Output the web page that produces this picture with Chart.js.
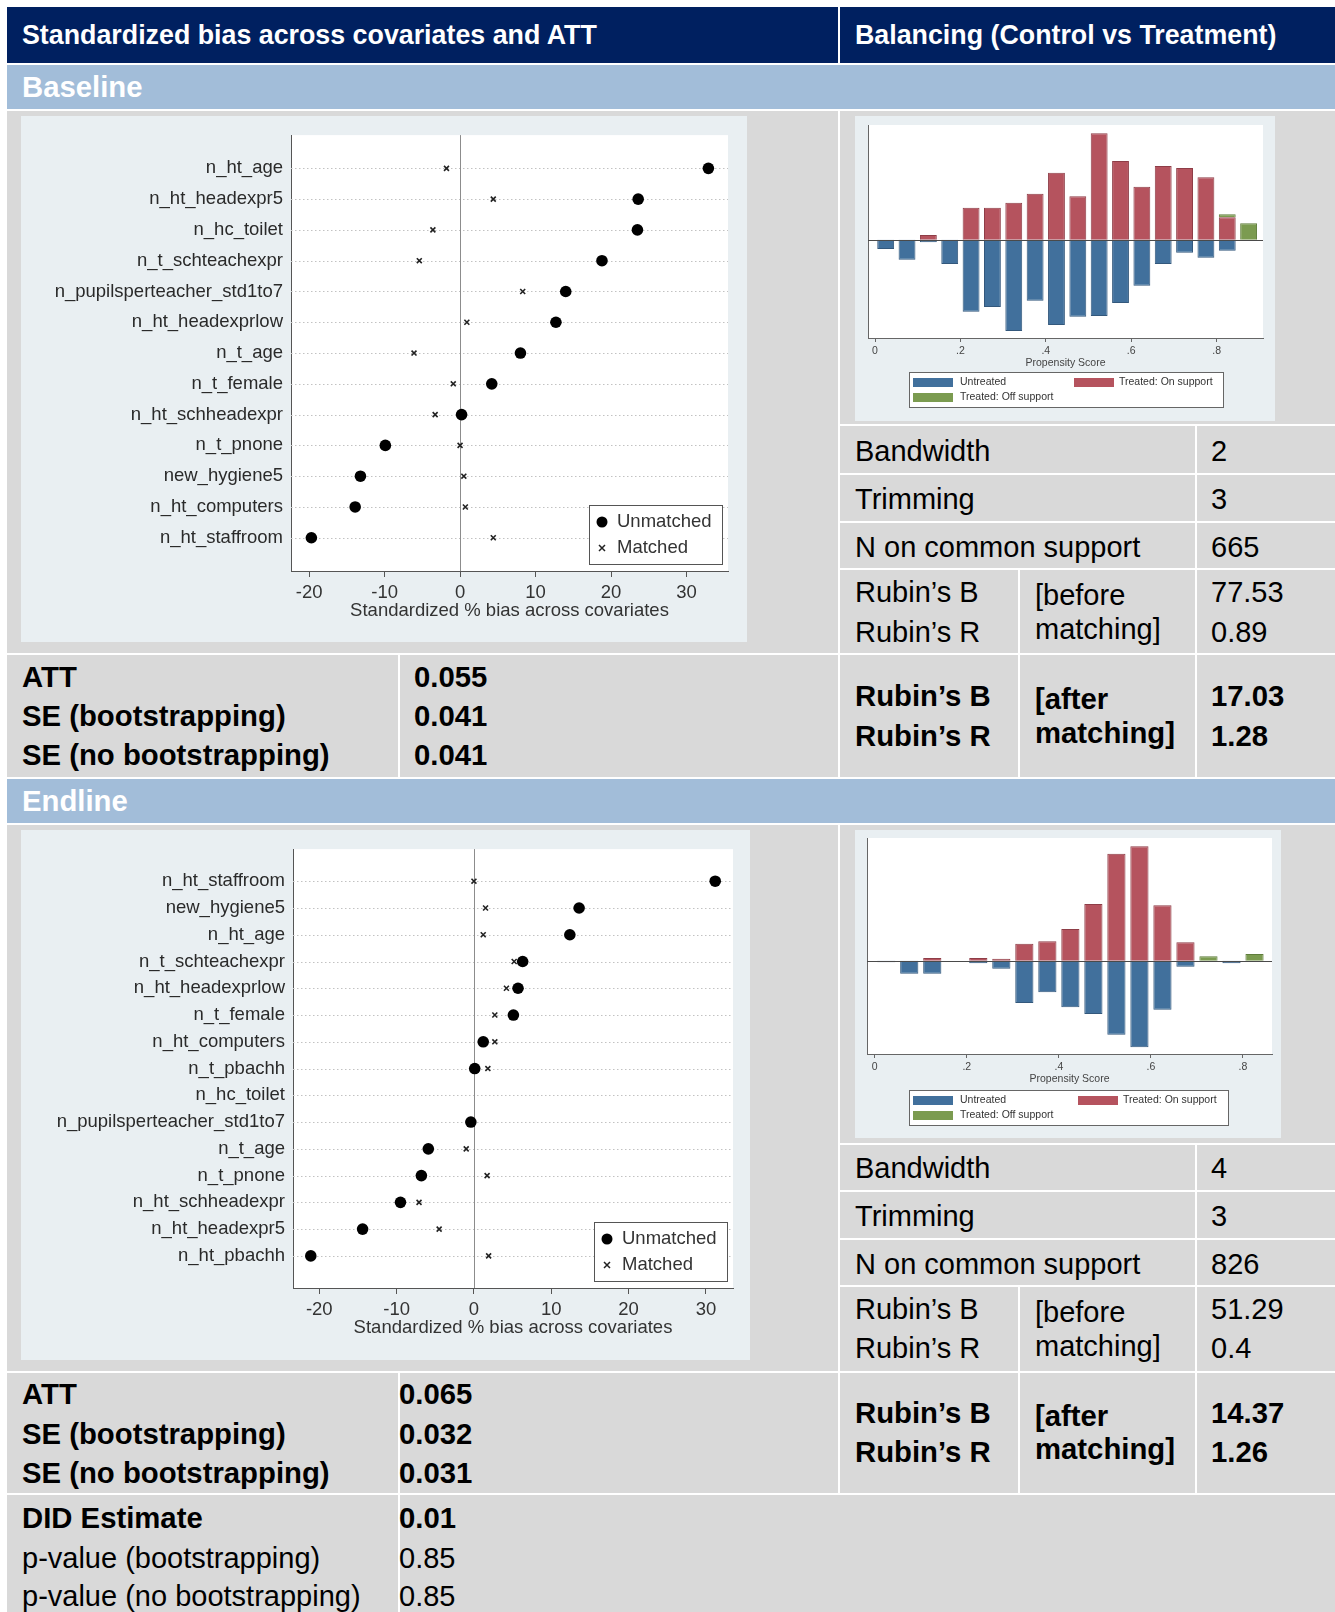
<!DOCTYPE html>
<html>
<head>
<meta charset="utf-8">
<script src="https://cdn.jsdelivr.net/npm/chart.js@4.4.1/dist/chart.umd.min.js"></script>
<style>
html,body{margin:0;padding:0;background:#fff;overflow:hidden;}
#page{position:relative;width:1335px;height:1612px;font-family:"Liberation Sans",Arial,Helvetica,sans-serif;}
.r{position:absolute;}
.g{background:#d9d9d9;}
.navy{background:#002060;}
.band{background:#a2bdd9;}
.t{position:absolute;white-space:nowrap;line-height:40px;height:40px;font-size:29px;color:#000;}
.b{font-weight:bold;font-size:29.3px;}
.h{font-weight:bold;font-size:26.8px;color:#fff;}
.w{color:#fff;}
canvas{position:absolute;display:block;background:#e9eff2;}
</style>
</head>
<body>
<div id="page">
  <!-- header -->
  <div class="r navy" style="left:7px;top:7px;width:831px;height:56px;"></div>
  <div class="r navy" style="left:840px;top:7px;width:495px;height:56px;"></div>
  <div class="t h" style="left:22px;top:15px;">Standardized bias across covariates and ATT</div>
  <div class="t h" style="left:855px;top:15px;">Balancing (Control vs Treatment)</div>

  <!-- Baseline -->
  <div class="r band" style="left:7px;top:65px;width:1328px;height:44px;"></div>
  <div class="t b w" style="left:22px;top:67px;">Baseline</div>

  <div class="r g" style="left:7px;top:111px;width:831px;height:542px;"></div>
  <div class="r g" style="left:840px;top:111px;width:495px;height:313px;"></div>
  <div class="r g" style="left:840px;top:426px;width:355px;height:47px;"></div>
  <div class="r g" style="left:1197px;top:426px;width:138px;height:47px;"></div>
  <div class="r g" style="left:840px;top:475px;width:355px;height:46px;"></div>
  <div class="r g" style="left:1197px;top:475px;width:138px;height:46px;"></div>
  <div class="r g" style="left:840px;top:523px;width:355px;height:45px;"></div>
  <div class="r g" style="left:1197px;top:523px;width:138px;height:45px;"></div>
  <div class="r g" style="left:840px;top:570px;width:178px;height:83px;"></div>
  <div class="r g" style="left:1020px;top:570px;width:175px;height:83px;"></div>
  <div class="r g" style="left:1197px;top:570px;width:138px;height:83px;"></div>

  <div class="r g" style="left:7px;top:655px;width:391px;height:122px;"></div>
  <div class="r g" style="left:400px;top:655px;width:438px;height:122px;"></div>
  <div class="r g" style="left:840px;top:655px;width:178px;height:122px;"></div>
  <div class="r g" style="left:1020px;top:655px;width:175px;height:122px;"></div>
  <div class="r g" style="left:1197px;top:655px;width:138px;height:122px;"></div>

  <canvas id="dotBase" width="726" height="526" style="left:21px;top:116px;width:726px;height:526px;"></canvas>
  <canvas id="histBase" width="420" height="305" style="left:855px;top:116px;width:420px;height:305px;"></canvas>

  <div class="t" style="left:855px;top:431px;">Bandwidth</div>
  <div class="t" style="left:1211px;top:431px;">2</div>
  <div class="t" style="left:855px;top:479px;">Trimming</div>
  <div class="t" style="left:1211px;top:479px;">3</div>
  <div class="t" style="left:855px;top:527px;">N on common support</div>
  <div class="t" style="left:1211px;top:527px;">665</div>
  <div class="t" style="left:855px;top:572px;">Rubin’s B</div>
  <div class="t" style="left:855px;top:612px;">Rubin’s R</div>
  <div class="t" style="left:1035px;top:575px;">[before</div>
  <div class="t" style="left:1035px;top:609px;">matching]</div>
  <div class="t" style="left:1211px;top:572px;">77.53</div>
  <div class="t" style="left:1211px;top:612px;">0.89</div>

  <div class="t b" style="left:22px;top:657px;">ATT</div>
  <div class="t b" style="left:22px;top:696px;">SE (bootstrapping)</div>
  <div class="t b" style="left:22px;top:735px;">SE (no bootstrapping)</div>
  <div class="t b" style="left:414px;top:657px;">0.055</div>
  <div class="t b" style="left:414px;top:696px;">0.041</div>
  <div class="t b" style="left:414px;top:735px;">0.041</div>
  <div class="t b" style="left:855px;top:676px;">Rubin’s B</div>
  <div class="t b" style="left:855px;top:716px;">Rubin’s R</div>
  <div class="t b" style="left:1035px;top:679px;">[after</div>
  <div class="t b" style="left:1035px;top:713px;">matching]</div>
  <div class="t b" style="left:1211px;top:676px;">17.03</div>
  <div class="t b" style="left:1211px;top:716px;">1.28</div>

  <!-- Endline -->
  <div class="r band" style="left:7px;top:779px;width:1328px;height:44px;"></div>
  <div class="t b w" style="left:22px;top:781px;">Endline</div>

  <div class="r g" style="left:7px;top:825px;width:831px;height:546px;"></div>
  <div class="r g" style="left:840px;top:825px;width:495px;height:318px;"></div>
  <div class="r g" style="left:840px;top:1145px;width:355px;height:45px;"></div>
  <div class="r g" style="left:1197px;top:1145px;width:138px;height:45px;"></div>
  <div class="r g" style="left:840px;top:1192px;width:355px;height:46px;"></div>
  <div class="r g" style="left:1197px;top:1192px;width:138px;height:46px;"></div>
  <div class="r g" style="left:840px;top:1240px;width:355px;height:45px;"></div>
  <div class="r g" style="left:1197px;top:1240px;width:138px;height:45px;"></div>
  <div class="r g" style="left:840px;top:1287px;width:178px;height:84px;"></div>
  <div class="r g" style="left:1020px;top:1287px;width:175px;height:84px;"></div>
  <div class="r g" style="left:1197px;top:1287px;width:138px;height:84px;"></div>

  <div class="r g" style="left:7px;top:1373px;width:391px;height:120px;"></div>
  <div class="r g" style="left:400px;top:1373px;width:438px;height:120px;"></div>
  <div class="r g" style="left:840px;top:1373px;width:178px;height:120px;"></div>
  <div class="r g" style="left:1020px;top:1373px;width:175px;height:120px;"></div>
  <div class="r g" style="left:1197px;top:1373px;width:138px;height:120px;"></div>

  <div class="r g" style="left:7px;top:1495px;width:391px;height:117px;"></div>
  <div class="r g" style="left:400px;top:1495px;width:935px;height:117px;"></div>

  <canvas id="dotEnd" width="729" height="530" style="left:21px;top:830px;width:729px;height:530px;"></canvas>
  <canvas id="histEnd" width="426" height="308" style="left:855px;top:830px;width:426px;height:308px;"></canvas>

  <div class="t" style="left:855px;top:1148px;">Bandwidth</div>
  <div class="t" style="left:1211px;top:1148px;">4</div>
  <div class="t" style="left:855px;top:1196px;">Trimming</div>
  <div class="t" style="left:1211px;top:1196px;">3</div>
  <div class="t" style="left:855px;top:1244px;">N on common support</div>
  <div class="t" style="left:1211px;top:1244px;">826</div>
  <div class="t" style="left:855px;top:1289px;">Rubin’s B</div>
  <div class="t" style="left:855px;top:1328px;">Rubin’s R</div>
  <div class="t" style="left:1035px;top:1292px;">[before</div>
  <div class="t" style="left:1035px;top:1326px;">matching]</div>
  <div class="t" style="left:1211px;top:1289px;">51.29</div>
  <div class="t" style="left:1211px;top:1328px;">0.4</div>

  <div class="t b" style="left:22px;top:1374px;">ATT</div>
  <div class="t b" style="left:22px;top:1414px;">SE (bootstrapping)</div>
  <div class="t b" style="left:22px;top:1453px;">SE (no bootstrapping)</div>
  <div class="t b" style="left:399px;top:1374px;">0.065</div>
  <div class="t b" style="left:399px;top:1414px;">0.032</div>
  <div class="t b" style="left:399px;top:1453px;">0.031</div>
  <div class="t b" style="left:855px;top:1393px;">Rubin’s B</div>
  <div class="t b" style="left:855px;top:1432px;">Rubin’s R</div>
  <div class="t b" style="left:1035px;top:1396px;">[after</div>
  <div class="t b" style="left:1035px;top:1429px;">matching]</div>
  <div class="t b" style="left:1211px;top:1393px;">14.37</div>
  <div class="t b" style="left:1211px;top:1432px;">1.26</div>

  <div class="t b" style="left:22px;top:1498px;">DID Estimate</div>
  <div class="t b" style="left:399px;top:1498px;">0.01</div>
  <div class="t" style="left:22px;top:1538px;">p-value (bootstrapping)</div>
  <div class="t" style="left:399px;top:1538px;">0.85</div>
  <div class="t" style="left:22px;top:1576px;">p-value (no bootstrapping)</div>
  <div class="t" style="left:399px;top:1576px;">0.85</div>
</div>

<script>
// ---------- DATA ----------
const baseCats = ['n_ht_age','n_ht_headexpr5','n_hc_toilet','n_t_schteachexpr','n_pupilsperteacher_std1to7','n_ht_headexprlow','n_t_age','n_t_female','n_ht_schheadexpr','n_t_pnone','new_hygiene5','n_ht_computers','n_ht_staffroom'];
const baseUnmatched = [32.9, 23.6, 23.5, 18.8, 14.0, 12.7, 8.0, 4.2, 0.2, -9.9, -13.2, -13.9, -19.7];
const baseMatched   = [-1.8, 4.4, -3.6, -5.4, 8.3, 0.9, -6.1, -0.9, -3.3, 0.0, 0.5, 0.7, 4.4];

const endCats = ['n_ht_staffroom','new_hygiene5','n_ht_age','n_t_schteachexpr','n_ht_headexprlow','n_t_female','n_ht_computers','n_t_pbachh','n_hc_toilet','n_pupilsperteacher_std1to7','n_t_age','n_t_pnone','n_ht_schheadexpr','n_ht_headexpr5','n_ht_pbachh'];
const endUnmatched = [31.2, 13.6, 12.4, 6.3, 5.7, 5.1, 1.2, 0.1, null, -0.4, -5.9, -6.8, -9.5, -14.4, -21.1];
const endMatched   = [0.0, 1.5, 1.2, 5.2, 4.2, 2.7, 2.7, 1.8, null, null, -1.0, 1.7, -7.1, -4.5, 1.9];

const biasTicks = [-20, -10, 0, 10, 20, 30];
const seriesNames = ['Unmatched', 'Matched'];

const psTicks = [0, 0.2, 0.4, 0.6, 0.8];
const psTickLabels = ['0', '.2', '.4', '.6', '.8'];
const histNames = ['Untreated', 'Treated: On support', 'Treated: Off support'];

const baseBins = [0.025, 0.075, 0.125, 0.175, 0.225, 0.275, 0.325, 0.375, 0.425, 0.475, 0.525, 0.575, 0.625, 0.675, 0.725, 0.775, 0.825, 0.875];
const baseUntreated = [-2.8, -6.0, -0.8, -7.3, -21.6, -20.2, -27.4, -18.3, -25.6, -23.1, -22.9, -19.0, -13.8, -7.3, -3.9, -5.4, -3.3, null];
const baseTreatedOn = [null, null, 1.4, null, 9.6, 9.6, 11.1, 13.8, 20.1, 13.0, 31.9, 23.6, 15.9, 22.1, 21.5, 18.7, 6.7, null];
const baseTreatedOff = [null, null, null, null, null, null, null, null, null, null, null, null, null, null, null, null, 0.9, 4.9];

const endBins = [0.025, 0.075, 0.125, 0.175, 0.225, 0.275, 0.325, 0.375, 0.425, 0.475, 0.525, 0.575, 0.625, 0.675, 0.725, 0.775, 0.825];
const endUntreated = [-0.5, -3.9, -3.9, null, -0.8, -2.4, -12.7, -9.5, -14.0, -16.0, -22.2, -26.0, -14.7, -1.8, null, -0.8, null];
const endTreatedOn = [null, null, 0.8, null, 0.8, 0.6, 5.1, 5.8, 9.5, 17.0, 32.1, 34.3, 16.6, 5.5, null, null, null];
const endTreatedOff = [null, null, null, null, null, null, null, null, null, null, null, null, null, null, 1.3, null, 2.0];

// ---------- STYLE ----------
const F = '"Liberation Sans", Arial, Helvetica, sans-serif';
const BLUE = '#41709c', RED = '#b5535e', GREEN = '#7b9b50';

const plotBg = {
  id: 'plotBg',
  beforeDraw(chart) {
    const {ctx, chartArea: a} = chart;
    ctx.save();
    ctx.fillStyle = '#ffffff';
    ctx.fillRect(a.left, a.top, a.right - a.left, a.bottom - a.top);
    ctx.restore();
  }
};

const dotGuides = {
  id: 'dotGuides',
  beforeDatasetsDraw(chart) {
    const {ctx, chartArea: a, scales: {x, y}} = chart;
    ctx.save();
    ctx.strokeStyle = '#c2c2c2';
    ctx.lineWidth = 1;
    ctx.setLineDash([1.5, 2.5]);
    y.ticks.forEach(t => {
      const py = Math.round(y.getPixelForValue(t.value)) + 0.5;
      ctx.beginPath(); ctx.moveTo(a.left, py); ctx.lineTo(a.right, py); ctx.stroke();
    });
    ctx.setLineDash([]);
    ctx.strokeStyle = '#8c8c8c';
    const px = Math.round(x.getPixelForValue(0)) + 0.5;
    ctx.beginPath(); ctx.moveTo(px, a.top); ctx.lineTo(px, a.bottom); ctx.stroke();
    ctx.restore();
  }
};

const dotLegend = {
  id: 'dotLegend',
  afterDraw(chart) {
    const {ctx, chartArea: a} = chart;
    const w = 133, h = 59;
    const L = Math.round(a.right - 6 - w), T = Math.round(a.bottom - 7 - h);
    ctx.save();
    ctx.fillStyle = '#ffffff';
    ctx.fillRect(L, T, w, h);
    ctx.strokeStyle = '#555';
    ctx.lineWidth = 1;
    ctx.strokeRect(L + 0.5, T + 0.5, w, h);
    ctx.fillStyle = '#000';
    ctx.beginPath(); ctx.arc(L + 13, T + 17, 5.5, 0, Math.PI * 2); ctx.fill();
    const cx = L + 13, cy = T + 43, r = 3;
    ctx.strokeStyle = '#222'; ctx.lineWidth = 1.5;
    ctx.beginPath();
    ctx.moveTo(cx - r, cy - r); ctx.lineTo(cx + r, cy + r);
    ctx.moveTo(cx + r, cy - r); ctx.lineTo(cx - r, cy + r);
    ctx.stroke();
    ctx.fillStyle = '#333';
    ctx.font = '18.5px ' + F;
    ctx.textBaseline = 'middle';
    const ds = chart.data.datasets;
    ctx.fillText(ds[0].label, L + 28, T + 17);
    ctx.fillText(ds[1].label, L + 28, T + 43);
    ctx.restore();
  }
};

function dotChart(id, cats, unm, mat, o) {
  const toPts = arr => arr.map((v, i) => (v === null ? null : {x: v, y: i})).filter(p => p !== null);
  return new Chart(document.getElementById(id), {
    type: 'scatter',
    data: {
      datasets: [
        {label: seriesNames[0], data: toPts(unm), pointStyle: 'circle', pointRadius: 5.8, backgroundColor: '#000', borderColor: '#000', borderWidth: 0},
        {label: seriesNames[1], data: toPts(mat), pointStyle: 'crossRot', pointRadius: 3.5, backgroundColor: '#222', borderColor: '#222', borderWidth: 1.6}
      ]
    },
    plugins: [plotBg, dotGuides, dotLegend],
    options: {
      responsive: false, animation: false, events: [],
      layout: {padding: {top: o.top, right: o.right, left: 0, bottom: o.bottom}},
      plugins: {legend: {display: false}, tooltip: {enabled: false}},
      scales: {
        x: {
          type: 'linear', min: o.xmin, max: o.xmax,
          afterBuildTicks: s => { s.ticks = biasTicks.map(v => ({value: v})); },
          ticks: {font: {size: 18.5, family: F}, color: '#333', padding: 5, callback: v => String(v)},
          grid: {display: true, drawOnChartArea: false, drawTicks: true, tickLength: 6, color: '#555'},
          border: {display: true, color: '#555', width: 1},
          title: {display: true, text: 'Standardized % bias across covariates', font: {size: 18.5, family: F}, color: '#333', padding: 0},
          afterFit: s => { s.height = 51; }
        },
        y: {
          type: 'linear', reverse: true, min: -o.pad, max: cats.length - 1 + o.pad,
          afterBuildTicks: s => { s.ticks = cats.map((c, i) => ({value: i})); },
          ticks: {font: {size: 18.5, family: F}, color: '#2a2a2a', padding: 8, callback: v => cats[v]},
          grid: {display: false, drawTicks: false},
          border: {display: true, color: '#555', width: 1},
          afterFit: s => { s.width = o.left; }
        }
      }
    }
  });
}

const zeroLine = {
  id: 'zeroLine',
  afterDatasetsDraw(chart) {
    const {ctx, chartArea: a, scales: {y}} = chart;
    const py = Math.round(y.getPixelForValue(0)) + 0.5;
    ctx.save();
    ctx.strokeStyle = '#4a4a4a'; ctx.lineWidth = 1;
    ctx.beginPath(); ctx.moveTo(a.left, py); ctx.lineTo(a.right, py); ctx.stroke();
    ctx.restore();
  }
};

const histLegend = {
  id: 'histLegend',
  afterDraw(chart, args, opts) {
    const {ctx} = chart;
    const ds = chart.data.datasets;
    const L = opts.x, T = opts.y, w = opts.w, h = opts.h;
    ctx.save();
    ctx.fillStyle = '#ffffff';
    ctx.fillRect(L, T, w, h);
    ctx.strokeStyle = '#666'; ctx.lineWidth = 1;
    ctx.strokeRect(L + 0.5, T + 0.5, w, h);
    ctx.font = '10.5px ' + F;
    ctx.textBaseline = 'middle';
    const items = [
      {i: 0, sx: L + 4, tx: L + 51, cy: T + 10.5},
      {i: 1, sx: L + opts.col2, tx: L + opts.col2 + 45, cy: T + 10.5},
      {i: 2, sx: L + 4, tx: L + 51, cy: T + 25.5}
    ];
    items.forEach(it => {
      ctx.fillStyle = ds[it.i].backgroundColor;
      ctx.fillRect(it.sx, it.cy - 4.5, 40, 9);
      ctx.fillStyle = '#333';
      ctx.fillText(ds[it.i].label, it.tx, it.cy);
    });
    ctx.restore();
  }
};

function histChart(id, bins, untreated, tOn, tOff, o) {
  const pts = arr => bins.map((b, i) => ({x: b, y: arr[i]}));
  return new Chart(document.getElementById(id), {
    type: 'bar',
    data: {
      datasets: [
        {label: histNames[0], data: pts(untreated), backgroundColor: BLUE, borderColor: '#33587c', borderWidth: 1},
        {label: histNames[1], data: pts(tOn), backgroundColor: RED, borderColor: '#8e3d47', borderWidth: 1},
        {label: histNames[2], data: pts(tOff), backgroundColor: GREEN, borderColor: '#5f7d3c', borderWidth: 1}
      ]
    },
    plugins: [plotBg, zeroLine, histLegend],
    options: {
      responsive: false, animation: false, events: [],
      datasets: {bar: {barPercentage: 0.79, categoryPercentage: 1}},
      layout: {padding: {left: o.left, right: o.right, top: o.top, bottom: o.bottom}},
      plugins: {legend: {display: false}, tooltip: {enabled: false}, histLegend: o.legend},
      scales: {
        x: {
          type: 'linear', stacked: true, offset: false, min: o.xmin, max: o.xmax,
          afterBuildTicks: s => { s.ticks = psTicks.map(v => ({value: v})); },
          ticks: {font: {size: 10.5, family: F}, color: '#444', padding: 3, callback: (v, i) => psTickLabels[i]},
          grid: {display: true, offset: false, drawOnChartArea: false, drawTicks: true, tickLength: 4, color: '#666'},
          border: {display: true, color: '#666', width: 1},
          title: {display: true, text: 'Propensity Score', font: {size: 10.5, family: F}, color: '#444', padding: 0},
          afterFit: s => { s.height = 31; }
        },
        y: {
          type: 'linear', stacked: true, min: o.ymin, max: o.ymax,
          ticks: {display: false},
          grid: {display: false, drawTicks: false},
          border: {display: true, color: '#666', width: 1},
          afterFit: s => { s.width = 0; }
        }
      }
    }
  });
}

dotChart('dotBase', baseCats, baseUnmatched, baseMatched,
  {xmin: -22.4, xmax: 35.5, pad: 1.08, left: 270, right: 19, top: 19, bottom: 20});
dotChart('dotEnd', endCats, endUnmatched, endMatched,
  {xmin: -23.4, xmax: 33.5, pad: 1.2, left: 272, right: 17, top: 17, bottom: 21});

histChart('histBase', baseBins, baseUntreated, baseTreatedOn, baseTreatedOff,
  {xmin: -0.0164, xmax: 0.9087, ymin: -29.5, ymax: 34.4, left: 13, right: 12, top: 9, bottom: 52,
   legend: {x: 54, y: 256, w: 314, h: 35, col2: 165}});
histChart('histEnd', endBins, endUntreated, endTreatedOn, endTreatedOff,
  {xmin: -0.0168, xmax: 0.863, ymin: -28.0, ymax: 36.8, left: 12, right: 9, top: 8, bottom: 53,
   legend: {x: 54, y: 260, w: 319, h: 35, col2: 169}});
</script>
</body>
</html>
